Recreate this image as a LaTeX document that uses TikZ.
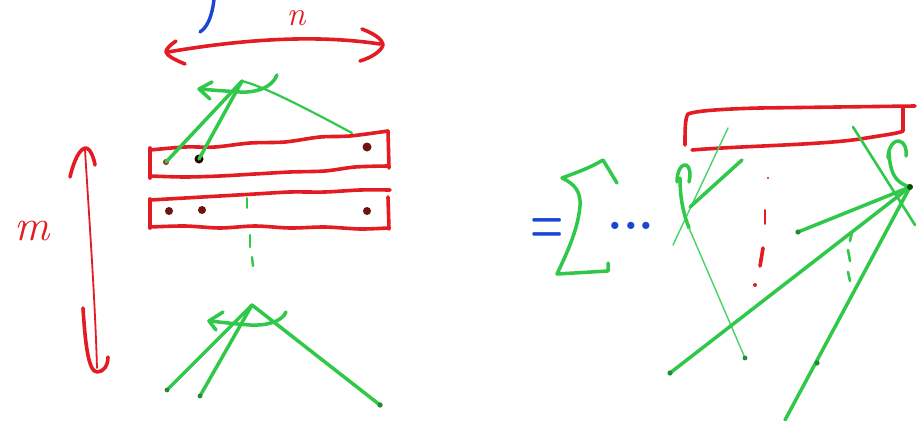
\documentclass[tikz,border=0pt]{standalone}
\usepackage{tikz}
\definecolor{pred}{RGB}{226,28,34}
\definecolor{pgreen}{RGB}{48,200,72}
\definecolor{pgreenl}{RGB}{70,212,100}
\definecolor{pblue}{RGB}{25,70,215}
\definecolor{pdark}{RGB}{110,18,18}
\tikzset{
  redpen/.style={draw=pred,line width=3.6pt,line cap=round,line join=round},
  redthin/.style={draw=pred,line width=1.8pt,line cap=round},
  greenpen/.style={draw=pgreen,line width=3.5pt,line cap=round,line join=round},
  greenthin/.style={draw=pgreenl,line width=1.4pt,line cap=round},
  bluepen/.style={draw=pblue,line width=3.4pt,line cap=round},
  dotmark/.style={fill=pdark},
  gdot/.style={fill=pgreen!70!black},
  handtext/.style={inner sep=0pt,font=\itshape}
}
\begin{document}
\begin{tikzpicture}[x=1pt,y=-1pt]
\useasboundingbox (0,0) rectangle (917,420);
\fill[white] (0,0) rectangle (917,420);

% ---------------- left part ----------------
% blue stroke at top
\draw[bluepen] (214,0) .. controls (212,15) and (208,27) .. (200,32);

% label n and horizontal double arrow
\node[handtext,text=pred,anchor=base,font=\fontsize{34}{34}\selectfont\itshape] (labn) at (296,26) {n};
\coordinate (hl) at (168,52);
\coordinate (hr) at (380,44);
\draw[redpen] (hl) .. controls (250,38) and (320,35) .. (hr);
\draw[redpen] (176,41) .. controls (170,45) and (166,49) .. (166,52) .. controls (168,57) and (178,61) .. (185,64);
\draw[redpen] (362,29) .. controls (372,33) and (382,38) .. (383,45) .. controls (381,52) and (370,58) .. (360,61);

% label m and vertical double arrow
\node[handtext,text=pred,anchor=base,font=\fontsize{44}{44}\selectfont\itshape] (labm) at (32,240) {m};
\coordinate (vt) at (85,150);
\coordinate (vb) at (97,368);
\draw[redthin] (vt) .. controls (90,230) and (95,300) .. (vb);
\draw[redpen] (70,177) .. controls (74,160) and (80,148) .. (86,148) .. controls (90,148) and (94,158) .. (95,165);
\draw[redpen] (83,308) .. controls (85,340) and (88,372) .. (97,372) .. controls (104,372) and (108,365) .. (108,357);

% top wavy rectangle
\draw[redpen] plot[smooth] coordinates {(150,150) (185,147) (215,147) (250,143) (285,142) (320,137) (350,136) (388,131)};
\draw[redpen] plot[smooth] coordinates {(150,176) (185,177) (220,176) (255,174) (290,172) (325,171) (355,167) (388,166)};
\draw[redpen] (150,148) -- (150,178);
\draw[redpen] (388,131) -- (389,168);

% second wavy rectangle
\draw[redpen] plot[smooth] coordinates {(150,200) (185,198) (220,196) (255,194) (290,192) (325,192) (360,190) (390,190)};
\draw[redpen] plot[smooth] coordinates {(150,227) (185,226) (220,228) (255,226) (290,228) (325,227) (360,229) (388,228)};
\draw[redpen] (150,199) -- (150,228);
\draw[redpen] (388,197) -- (389,229);

% dots in the rectangles
\coordinate (d1) at (166,162);
\coordinate (d2) at (199,159);
\coordinate (d3) at (367,147);
\coordinate (e1) at (169,211);
\coordinate (e2) at (202,210);
\coordinate (e3) at (367,211);
\fill[pred!80!black] (d1) circle (3);
\fill[black!85!red] (d2) circle (4.5);
\fill[dotmark] (d3) circle (4.5);
\fill[dotmark] (e1) circle (4);
\fill[dotmark] (e2) circle (4);
\fill[dotmark] (e3) circle (4);

% top green cap and lines
\coordinate (A) at (242,81);
\coordinate (t3) at (352,133);
\draw[greenpen] (A) -- (d1);
\draw[greenpen] (A) -- (d2);
\draw[greenpen,line width=2.2pt] (A) .. controls (262,86) and (300,105) .. (t3);
\draw[greenpen] (277,75) .. controls (272,88) and (255,93) .. (240,92) .. controls (225,91) and (210,90) .. (200,89);
\draw[greenpen] (212,82) -- (199,89) -- (210,99);

% green dashes
\draw[greenpen,line width=1.6pt] (247,198) -- (247,208);
\draw[greenpen,line width=2.4pt] (250,235) -- (250,247);
\draw[greenpen,line width=2.4pt] (252,257) -- (253,266);

% bottom green cap and lines
\coordinate (B) at (252,305);
\coordinate (b1) at (167,390);
\coordinate (b2) at (200,396);
\coordinate (b3) at (380,405);
\draw[greenpen] (B) -- (b1);
\draw[greenpen] (B) -- (b2);
\draw[greenpen] (B) -- (b3);
\draw[greenpen] (286,312) .. controls (282,322) and (265,326) .. (250,325) .. controls (235,324) and (220,322) .. (209,321);
\draw[greenpen] (223,312) -- (209,321) -- (216,330);
\fill[gdot] (b1) circle (2.4);
\fill[gdot] (b2) circle (2.4);
\fill[gdot] (b3) circle (2.7);

% ---------------- right part ----------------
% equals, sum sign, dots
\node[inner sep=0pt,anchor=center,text=pblue,font=\fontsize{38}{38}\selectfont\bfseries] (eq) at (547,231) {\scalebox{1}[1.7]{=}};
\draw[greenpen] (617,183) -- (603,160) .. controls (590,168) and (575,173) .. (562,178) .. controls (575,184) and (581,192) .. (580,206) .. controls (578,230) and (566,255) .. (557,274) -- (608,271) -- (608,263);
\node[inner sep=0pt,anchor=base,text=pblue,font=\fontsize{50}{50}\selectfont\bfseries] (dts) at (631,229) {...};

% right red rectangle
\draw[redpen] (692,150) .. controls (740,146) and (820,145) .. (860,139) .. controls (885,135) and (900,133) .. (903,131) -- (903,108);
\draw[redpen] (915,106) -- (760,108) .. controls (720,109) and (695,111) .. (688,114) .. controls (685,118) and (685,130) .. (685,145);

% red dashes
\fill[pred] (768,178) circle (1.2);
\draw[redthin] (765,210) -- (765,224);
\draw[redpen] (763,248) -- (760,266);
\fill[pred] (755,285) circle (2);

% left green cap on the right side
\coordinate (lt) at (728,128);
\coordinate (lb) at (673,245);
\draw[greenthin] (lt) -- (lb);
\coordinate (k1) at (742,160);
\coordinate (k2) at (690,207);
\draw[greenpen] (k1) -- (k2);
\draw[greenpen] (677,182) .. controls (677,170) and (682,164) .. (686,165) .. controls (690,166) and (691,175) .. (689,182);
\coordinate (c1) at (689,228);
\coordinate (c2) at (745,358);
\draw[greenpen] (680,178) .. controls (680,200) and (684,215) .. (c1);
\draw[greenthin] (c1) -- (c2);
\fill[gdot] (c2) circle (2.4);

% right apex and lines
\coordinate (C) at (910,187);
\coordinate (r1) at (798,232);
\coordinate (r2) at (670,373);
\coordinate (r3) at (785,420);
\coordinate (rm) at (817,363);
\draw[greenpen] (C) -- (r1);
\draw[greenpen] (C) -- (r2);
\draw[greenpen] (C) -- (r3);
\coordinate (s1) at (853,127);
\coordinate (s2) at (915,225);
\draw[greenpen,line width=2.6pt] (s1) -- (s2);
\draw[greenpen] (888,158) .. controls (888,146) and (895,140) .. (899,141) .. controls (905,142) and (907,150) .. (906,156);
\draw[greenpen] (889,152) .. controls (890,170) and (893,182) .. (C);
\fill[black!70!green] (C) circle (3);
\fill[gdot] (r1) circle (2.6);
\fill[gdot] (r2) circle (2.6);
\fill[gdot] (rm) circle (2.6);

% green dashes right
\draw[greenpen,line width=2.6pt] (852,232) -- (850,241);
\draw[greenpen,line width=2.6pt] (848,250) -- (850,261);
\draw[greenpen,line width=2.6pt] (848,272) -- (850,281);
\end{tikzpicture}
\end{document}
